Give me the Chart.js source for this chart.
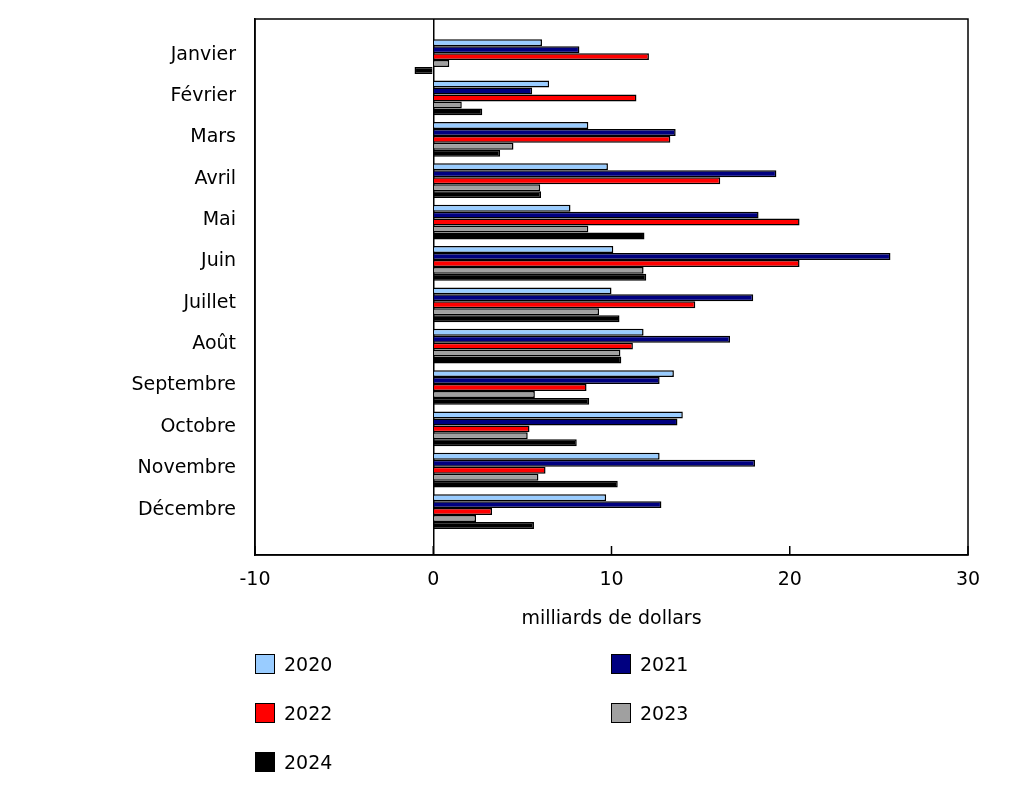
<!DOCTYPE html>
<html><head><meta charset="utf-8">
<script src="https://cdn.jsdelivr.net/npm/chart.js@4/dist/chart.umd.min.js"></script>
<style>
html,body{margin:0;padding:0;background:#fff;}
#wrap{position:relative;width:1032px;height:786px;}
#legend{position:absolute;left:255px;top:654px;width:720px;font-family:"DejaVu Sans",sans-serif;font-size:19px;color:#000;}
.item{position:absolute;display:flex;align-items:center;height:20px;}
.box{width:18px;height:18px;border:1.5px solid #000;margin-right:9px;box-sizing:content-box;}
</style></head>
<body><div id="wrap"><canvas id="c" width="1032" height="786"></canvas><div id="legend"></div></div>
<script>
const months = ["Janvier","Février","Mars","Avril","Mai","Juin","Juillet","Août","Septembre","Octobre","Novembre","Décembre"];
const years = ["2020","2021","2022","2023","2024"];
const v2020 = [6.1, 6.5, 8.7, 9.8, 7.7, 10.1, 10.0, 11.8, 13.5, 14.0, 12.7, 9.7];
const v2021 = [8.2, 5.55, 13.6, 19.25, 18.25, 25.65, 17.95, 16.65, 12.7, 13.7, 18.05, 12.8];
const v2022 = [12.1, 11.4, 13.3, 16.1, 20.55, 20.55, 14.7, 11.2, 8.6, 5.4, 6.3, 3.3];
const v2023 = [0.9, 1.6, 4.5, 6.0, 8.7, 11.8, 9.3, 10.5, 5.7, 5.3, 5.9, 2.4];
const v2024 = [-1.05, 2.75, 3.75, 6.05, 11.85, 11.95, 10.45, 10.55, 8.75, 8.05, 10.35, 5.65];
const xTicks = [-10, 0, 10, 20, 30];
const colors = ["#99CCFF", "#000080", "#FF0000", "#A0A0A0", "#000000"];
const series = [v2020, v2021, v2022, v2023, v2024];

const font = {family: "'DejaVu Sans', sans-serif", size: 19};

const framePlugin = {
  id: 'frame',
  afterDraw(chart) {
    const {ctx, chartArea: a, scales: {x}} = chart;
    ctx.save();
    ctx.strokeStyle = '#000';
    ctx.lineWidth = 1.5;
    ctx.strokeRect(a.left, a.top, a.right - a.left, a.bottom - a.top);
    ctx.beginPath();
    xTicks.forEach(t => {
      const px = x.getPixelForValue(t);
      ctx.moveTo(px, a.bottom);
      ctx.lineTo(px, a.bottom - 9);
    });
    ctx.stroke();
    ctx.restore();
  }
};

const chart = new Chart(document.getElementById('c'), {
  type: 'bar',
  data: {
    datasets: series.map((s, k) => ({
      label: years[k],
      data: s.map((v, i) => ({x: v, y: i})),
      backgroundColor: colors[k],
      borderColor: '#000',
      borderWidth: 1.5,
      barPercentage: 1,
      categoryPercentage: 0.84
    }))
  },
  options: {
    indexAxis: 'y',
    responsive: false,
    animation: false,
    layout: {padding: {top: 19, right: 64, left: 0, bottom: 152}},
    plugins: {legend: {display: false}, tooltip: {enabled: false}},
    scales: {
      x: {
        type: 'linear', min: -10, max: 30, offset: false,
        afterBuildTicks: ax => { ax.ticks = xTicks.map(v => ({value: v})); },
        afterFit: s => { s.height = 79; s.paddingLeft = 0; s.paddingRight = 0; },
        ticks: {font, color: '#000', padding: 14},
        grid: {drawTicks: false, drawOnChartArea: true, lineWidth: 1.5, offset: false,
               color: c => (c.tick && c.tick.value === 0) ? '#000' : 'rgba(0,0,0,0)'},
        border: {display: true, color: '#000', width: 1.5},
        title: {display: true, text: 'milliards de dollars', font, color: '#000', padding: {top: 4, bottom: 4}}
      },
      y: {
        type: 'linear', reverse: true, min: -0.91, max: 12.05, offset: false,
        afterBuildTicks: ax => { ax.ticks = months.map((m, i) => ({value: i})); },
        afterFit: s => { s.width = 255; s.paddingTop = 0; s.paddingBottom = 0; },
        ticks: {font, color: '#000', padding: 19, autoSkip: false, labelOffset: -2,
                callback: v => months[v]},
        grid: {display: false, drawTicks: false, offset: false},
        border: {display: true, color: '#000', width: 1.5}
      }
    }
  },
  plugins: [framePlugin]
});

const leg = document.getElementById('legend');
chart.data.datasets.forEach((ds, k) => {
  const it = document.createElement('div');
  it.className = 'item';
  it.style.left = (k % 2 === 0 ? 0 : 356) + 'px';
  it.style.top = (Math.floor(k / 2) * 49) + 'px';
  const b = document.createElement('span');
  b.className = 'box';
  b.style.background = ds.backgroundColor;
  const t = document.createElement('span');
  t.textContent = ds.label;
  it.appendChild(b); it.appendChild(t);
  leg.appendChild(it);
});
</script></body></html>
